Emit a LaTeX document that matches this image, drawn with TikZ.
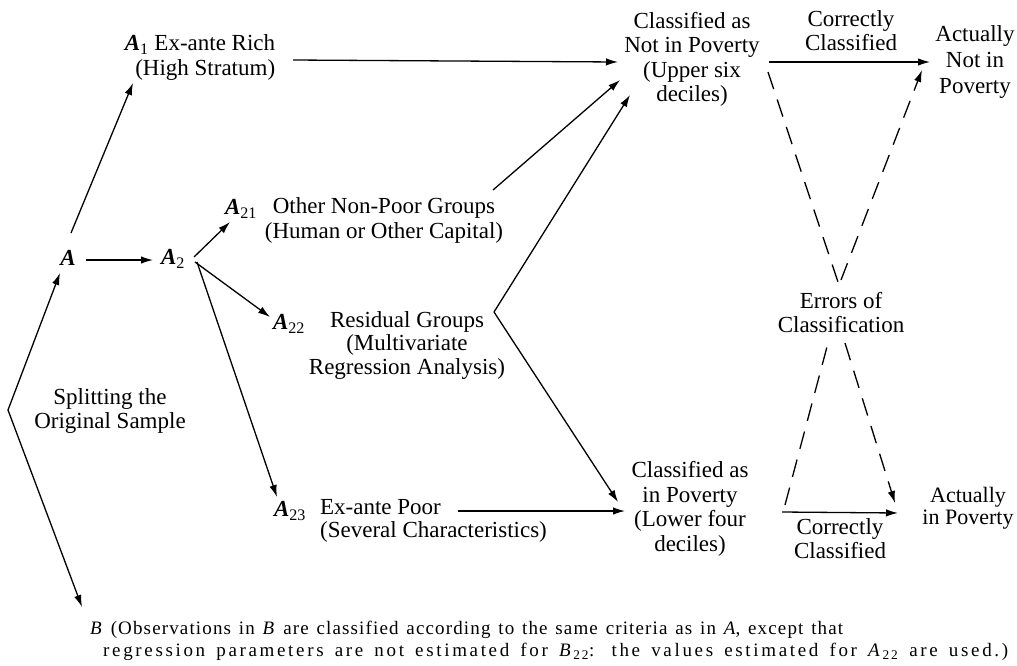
\documentclass[tikz,border=0pt]{standalone}
\usepackage{fontspec}
\setmainfont{Liberation Serif}
\newfontfamily\notefont[LetterSpace=6]{Liberation Serif}
\newfontfamily\notefontwide[LetterSpace=14]{Liberation Serif}
\usetikzlibrary{arrows.meta,calc}
\newcommand{\Asub}[2]{\textbf{\textit{#1}}\textsubscript{#2}}
\begin{document}
\begin{tikzpicture}[x=1pt,y=-1pt,
  lbl/.style={inner sep=0pt, align=center, font=\fontsize{23}{24.5}\selectfont},
  arr/.style={line width=1.3pt, -{Latex[length=12pt,width=7.5pt]}},
  ln/.style={line width=1.3pt},
  dsh/.style={line width=1.3pt, dash pattern=on 18pt off 11pt},
  dsharr/.style={dsh, -{Latex[length=12pt,width=7.5pt]}}]
\useasboundingbox (0,0) rectangle (1017,665);

% nodes
\node[lbl] (A) at (68,258) {\textbf{\textit{A}}};
\node[lbl] (A2) at (173,259) {\Asub{A}{2}};
\node[lbl, align=right] (A1) at (200,57.5) {\Asub{A}{1} Ex-ante Rich\\(High Stratum)};
\node[lbl] (A21) at (241,209) {\Asub{A}{21}};
\node[lbl] (ONP) at (384,220.5) {Other Non-Poor Groups\\(Human or Other Capital)};
\node[lbl] (A22) at (289,324) {\Asub{A}{22}};
\node[lbl, font=\fontsize{23}{23.5}\selectfont] (RES) at (407,345) {Residual Groups\\(Multivariate\\Regression Analysis)};
\node[lbl] (A23) at (290,511) {\Asub{A}{23}};
\node[lbl, align=left, font=\fontsize{23}{22.5}\selectfont] (EXP) at (433.5,521) {Ex-ante Poor\\(Several Characteristics)};
\node[lbl] (CN) at (692,59.5) {Classified as\\Not in Poverty\\(Upper six\\deciles)};
\node[lbl] (CT) at (851,30.5) {Correctly\\Classified};
\node[lbl, font=\fontsize{23}{26}\selectfont] (ANP) at (975,62) {Actually\\Not in\\Poverty};
\node[lbl] (ERR) at (841,312.5) {Errors of\\Classification};
\node[lbl] (CP) at (690,509) {Classified as\\in Poverty\\(Lower four\\deciles)};
\node[lbl] (CB) at (840,538.5) {Correctly\\Classified};
\node[lbl, font=\fontsize{22}{22.5}\selectfont] (AP) at (968,508) {Actually\\in Poverty};
\node[lbl] (SPL) at (110,411) {Splitting the\\Original Sample};
\node[inner sep=0pt, anchor=north west, align=left, font=\notefont\fontsize{19}{22}\selectfont] (BN) at (90,621)
  {\makebox[753pt][s]{\textit{B} (Observations in \textit{B} are classified according to the same criteria as in \textit{A}, except that}\\
   \hspace*{13pt}\makebox[905pt][s]{\notefontwide regression parameters are not estimated for \textit{B}\textsubscript{22}: the values estimated for \textit{A}\textsubscript{22} are used.)}};

\coordinate (v0) at (8,410);
\coordinate (v1) at (494,312);

% connectors
\draw[arr] ($(A)+(3,-25)$) -- ($(A1)+(-67,25.5)$);
\draw[arr] ($(A)+(18,2)$) -- ($(A2)+(-20,1)$);
\draw[arr] ($(A2)+(21,-2)$) -- ($(A21)+(-11,13)$);
\draw[arr] ($(A2)+(22,3)$) -- ($(A22)+(-19,-7)$);
\draw[arr] ($(A2)+(24,3)$) -- ($(A23)+(-13,-14)$);
\draw[arr] ($(A1)+(93,2.5)$) -- ($(CN)+(-74,2.5)$);
\draw[arr] ($(ONP)+(109,-30.5)$) -- ($(CN)+(-72,20.5)$);
\draw[arr] (v1) -- ($(CN)+(-62,35.5)$);
\draw[arr] (v1) -- ($(CP)+(-72,-7)$);
\draw[arr] ($(EXP)+(24.5,-10)$) -- ($(CP)+(-65,2)$);
\draw[arr] ($(CN)+(77,2.5)$) -- ($(ANP)+(-45,0)$);
\draw[arr] ($(CP)+(92,3)$) -- ($(AP)+(-70,5)$);
\draw[dsh] ($(CN)+(76,12.5)$) -- ($(ERR)+(-3,-30.5)$);
\draw[dsharr] ($(ERR)+(0,-32.5)$) -- ($(ANP)+(-53,8)$);
\draw[dsh] ($(CP)+(95,-4)$) -- ($(ERR)+(-13,30.5)$);
\draw[dsharr] ($(ERR)+(4,30.5)$) -- ($(AP)+(-73,-5)$);
\draw[arr] (v0) -- ($(A)+(-8,15)$);
\draw[arr] (v0) -- ($(BN.north west)+(-8,-14)$);
\end{tikzpicture}
\end{document}
